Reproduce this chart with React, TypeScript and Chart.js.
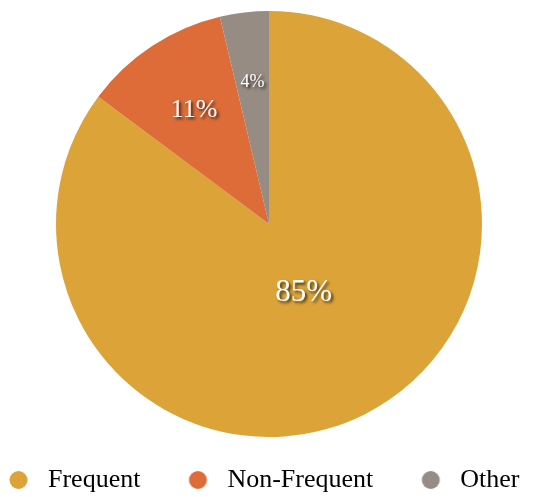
import React, { useEffect, useRef } from "react";
import { Chart, registerables } from "chart.js";

Chart.register(...registerables);

// ---- data ----
const categories: string[] = ["Frequent", "Non-Frequent", "Other"];
const shares: number[] = [85.2, 11.1, 3.7];
const sliceColors: string[] = ["#DCA339", "#DD6C38", "#978C83"];

// ---- label styling (not data) ----
const labelRadiusFraction: number[] = [0.362, 0.641, 0.672];
const labelFontSize: number[] = [31, 26, 18];

const SERIF = "'Liberation Serif', 'Times New Roman', serif";

function makeDot(color: string): HTMLCanvasElement {
  const c = document.createElement("canvas");
  c.width = 44;
  c.height = 26;
  const g = c.getContext("2d")!;
  g.fillStyle = color;
  g.beginPath();
  g.arc(27.5, 13, 9, 0, Math.PI * 2);
  g.fill();
  return c;
}

const sliceLabels = {
  id: "sliceLabels",
  afterDatasetsDraw(chart: any) {
    const meta = chart.getDatasetMeta(0);
    const ctx = chart.ctx as CanvasRenderingContext2D;
    const data = chart.data.datasets[0].data as number[];
    meta.data.forEach((arc: any, i: number) => {
      const p = arc.getProps(["x", "y", "startAngle", "endAngle", "outerRadius"], true);
      const mid = (p.startAngle + p.endAngle) / 2;
      const d = p.outerRadius * labelRadiusFraction[i];
      const x = p.x + Math.cos(mid) * d;
      const y = p.y + Math.sin(mid) * d;
      ctx.save();
      ctx.font = `${labelFontSize[i]}px ${SERIF}`;
      ctx.textAlign = "center";
      ctx.textBaseline = "middle";
      ctx.shadowColor = "rgba(0,0,0,0.75)";
      ctx.shadowOffsetX = 2;
      ctx.shadowOffsetY = 2;
      ctx.shadowBlur = 3;
      ctx.fillStyle = "#ffffff";
      ctx.fillText(`${Math.round(data[i])}%`, x, y);
      ctx.restore();
    });
  },
};

export default function App() {
  const ref = useRef<HTMLCanvasElement | null>(null);

  useEffect(() => {
    if (!ref.current) return;
    const baseGen = (Chart as any).overrides.doughnut.plugins.legend.labels.generateLabels;
    const chart = new Chart(ref.current, {
      type: "pie",
      data: {
        labels: categories,
        datasets: [
          {
            data: shares,
            backgroundColor: sliceColors,
            borderWidth: 0,
          },
        ],
      },
      options: {
        animation: false,
        responsive: true,
        maintainAspectRatio: false,
        events: [],
        layout: { padding: { top: 11, left: 0, right: 0, bottom: 0 } },
        plugins: {
          tooltip: { enabled: false },
          legend: {
            position: "bottom",
            align: "start",
            labels: {
              usePointStyle: true,
              pointStyleWidth: 44,
              boxHeight: 26,
              padding: 30,
              color: "#000",
              font: { family: SERIF, size: 26 },
              generateLabels(c: any) {
                const items = baseGen(c);
                return items.map((it: any, i: number) => ({
                  ...it,
                  pointStyle: makeDot(sliceColors[i]),
                  fontColor: "#000",
                }));
              },
            },
          },
        },
      },
      plugins: [sliceLabels],
    } as any);
    return () => chart.destroy();
  }, []);

  return (
    <div
      style={{
        position: "fixed",
        left: 0,
        top: 0,
        width: 533,
        height: 497,
        overflow: "hidden",
        background: "#fff",
      }}
    >
      <div style={{ position: "absolute", left: -39, top: 0, width: 616, height: 503 }}>
        <canvas ref={ref} />
      </div>
    </div>
  );
}
